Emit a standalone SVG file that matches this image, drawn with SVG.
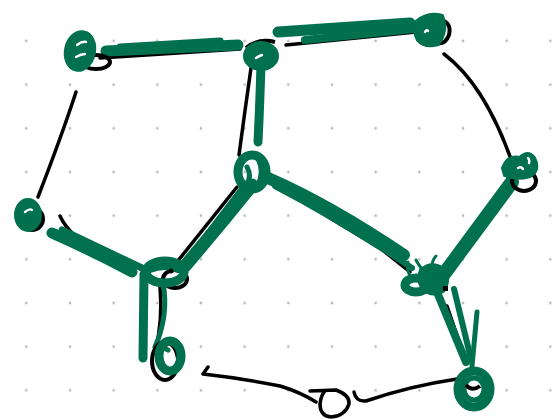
<svg xmlns="http://www.w3.org/2000/svg" width="554" height="419" viewBox="0 0 554 419">
<defs>
<pattern id="grid" patternUnits="userSpaceOnUse" x="4.47" y="19.17" width="43.67" height="43.67">
<circle cx="21.83" cy="21.83" r="1.4" fill="#bdbdbd"/>
</pattern>
<style>
.edge{fill:none;stroke:#000;stroke-width:3.5;stroke-linecap:round;stroke-linejoin:round}
.hl{fill:none;stroke:#00704f;stroke-linecap:round;stroke-linejoin:round}
.ob{fill:none;stroke:#000;stroke-width:4}
.gf{fill:#00704f;stroke:#00704f;stroke-width:4}
.gr{fill:none;stroke:#00704f;stroke-width:9}
.slit{fill:none;stroke:#fff;stroke-width:2.4;stroke-linecap:round}
</style>
</defs>
<rect x="0" y="0" width="554" height="419" fill="#fff"/>
<rect x="0" y="19" width="554" height="400" fill="url(#grid)"/>
<g id="connectors">
<path class="edge" d="M100,58 L240,49"/>
<path class="edge" d="M286,45 L416,32"/>
<path class="edge" d="M76,92 Q62,135 38,197"/>
<path class="edge" d="M251,68 Q245,110 239,155"/>
<path class="edge" d="M444,54 Q485,85 512,162"/>
<path class="edge" d="M60,216 Q70,238 100,250 L145,268"/>
<path class="edge" d="M237,187 L177,262"/>
<path class="edge" d="M270,183 Q300,195 330,218 Q360,236 380,248 L410,272"/>
<path class="edge" d="M512,181 L440,277"/>
<path class="edge" d="M160,287 Q163,320 155,353"/>
<path class="edge" d="M447,306 L462,350"/>
<path class="edge" d="M208,367 L203,374 Q240,378 280,386 Q300,392 316,402"/>
<path class="edge" d="M310,391 L336,390 Q350,395 349,404 Q345,416 331,417 Q320,416 320,404 Q321,395 325,391"/>
<path class="edge" d="M354,392 Q356,402 366,401 Q410,386 457,379"/>
<path class="hl" stroke-width="11" d="M106,51 L238,45"/>
<path class="hl" stroke-width="7" d="M120,47 L220,41"/>
<path class="hl" stroke-width="11" d="M278,32 L410,23"/>
<path class="hl" stroke-width="8" d="M305,40 L414,29"/>
<path class="hl" stroke-width="9" d="M261,64 Q260,100 258,142"/>
<path class="hl" stroke-width="11" d="M52,233 Q95,252 132,272"/>
<path class="hl" stroke-width="7" d="M62,230 L142,268"/>
<path class="hl" stroke-width="13" d="M252,185 Q220,225 185,266"/>
<path class="hl" stroke-width="6" d="M241,190 L186,262"/>
<path class="hl" stroke-width="12" d="M268,178 Q330,205 404,255"/>
<path class="hl" stroke-width="6" d="M275,186 Q340,220 412,268"/>
<path class="hl" stroke-width="14" d="M512,182 Q475,232 441,278"/>
<path class="hl" stroke-width="9" d="M144,274 L143,358"/>
<path class="hl" stroke-width="5" d="M163,283 Q169,315 155,347"/>
<path class="hl" stroke-width="8" d="M437,292 L466,362"/>
<path class="hl" stroke-width="6" d="M454,289 L471,359"/>
<path class="hl" stroke-width="5" d="M477,312 L472,366"/>
</g>
<g id="node-a">
<ellipse class="ob" cx="96" cy="62" rx="14" ry="7"/>
<ellipse class="gf" cx="80" cy="51" rx="14" ry="19" transform="rotate(12 80 51)"/>
<path class="slit" d="M77,45 Q82,41 86,42"/>
<path class="slit" d="M76,57 Q81,54 85,54"/>
</g>
<g id="node-b">
<path class="ob" d="M246,48 Q258,38 275,42"/>
<ellipse class="gf" cx="261" cy="56" rx="16" ry="13"/>
<path class="slit" d="M256,58 Q259,56 262,55"/>
</g>
<g id="node-c">
<path class="ob" d="M440,20 Q452,22 449,35 Q445,45 437,43"/>
<path class="gf" d="M416,22 Q428,12 442,16 Q448,30 438,44 Q425,48 418,40 Q413,30 416,22 Z"/>
<path class="slit" d="M425,32 Q427,29 428,31"/>
</g>
<g id="node-d">
<ellipse class="ob" cx="32" cy="219" rx="11" ry="11"/>
<ellipse class="gf" cx="28" cy="215" rx="12" ry="15"/>
<path class="slit" d="M25,212 Q30,208 32,210"/>
</g>
<g id="node-e">
<path class="ob" d="M240,160 Q233,172 240,185"/>
<ellipse class="gr" cx="252" cy="172" rx="14" ry="17"/>
<path class="hl" stroke-width="6" d="M259,160 Q265,172 258,186"/>
<path class="hl" stroke-width="5" d="M247,167 Q252,176 247,183"/>
</g>
<g id="node-f">
<ellipse class="ob" cx="524" cy="181" rx="12" ry="10"/>
<path class="gf" d="M503,168 Q508,155 520,158 Q528,150 534,158 Q540,170 530,176 Q515,180 505,175 Z"/>
<path class="slit" d="M518,168 Q521,166 523,169"/>
<path class="slit" d="M528,158 Q530,160 529,163"/>
</g>
<g id="node-g">
<ellipse class="ob" cx="175" cy="279" rx="12" ry="9"/>
<ellipse class="gr" cx="165" cy="272" rx="19" ry="11"/>
<path class="hl" stroke-width="6" d="M150,270 Q165,264 178,270"/>
<circle cx="171" cy="271" r="2.5" fill="#000"/>
</g>
<g id="node-h">
<path class="ob" d="M418,280 Q428,292 445,286"/>
<ellipse class="gr" cx="416" cy="285" rx="11" ry="7"/>
<path class="gf" d="M421,270 Q432,261 443,269 Q451,280 443,291 Q432,297 423,289 Q417,280 421,270 Z"/>
<path class="hl" stroke-width="3" d="M431,270 Q432,260 436,256"/>
<path class="hl" stroke-width="3" d="M424,272 Q418,264 416,260"/>
<path class="hl" stroke-width="3" d="M410,276 Q406,268 408,262"/>
<rect x="443" y="286" width="5" height="5" fill="#000"/>
</g>
<g id="node-i">
<ellipse class="ob" cx="165" cy="361" rx="13" ry="19"/>
<ellipse class="gr" cx="170" cy="356" rx="11" ry="15" stroke-width="8"/>
<path class="hl" stroke-width="5" d="M157,352 Q162,346 168,350"/>
<path class="slit" d="M166,362 Q170,358 172,364"/>
</g>
<g id="node-j">
<ellipse class="gr" cx="474" cy="389" rx="16" ry="18"/>
<ellipse cx="474" cy="389" rx="10" ry="11" fill="none" stroke="#00704f" stroke-width="5"/>
<path class="ob" stroke-width="3" d="M466,385 Q472,392 480,386"/>
</g>
</svg>
